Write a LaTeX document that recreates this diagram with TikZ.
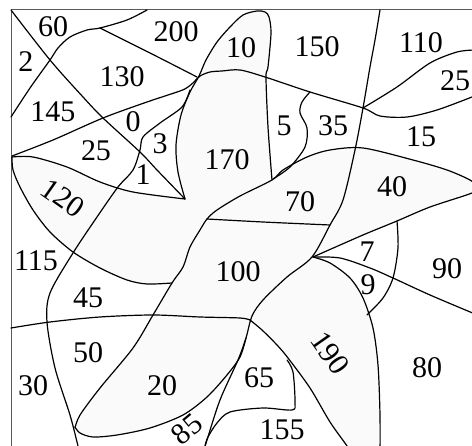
\documentclass[tikz,border=0pt]{standalone}
\usepackage{fontspec}
\setmainfont{Liberation Serif}
\begin{document}
\begin{tikzpicture}[x=1pt,y=-1pt]
\tikzstyle{num}=[font=\fontsize{30}{30}\selectfont,inner sep=0pt]
\tikzstyle{curve}=[draw,line width=1.2pt,line join=round,line cap=round]
\tikzstyle{star}=[fill=gray!4]
\tikzstyle{frame}=[draw=black!65,line width=1pt]
\useasboundingbox (0,0) rectangle (472,446);
\clip (0,0) rectangle (472,446);
% shaded pinwheel
\path[star] plot[smooth] coordinates {(12,157) (33,157) (67,167) (100,182) (133,192) (185,199)}
  -- plot[smooth] coordinates {(185,199) (178,172) (176,145) (181,115) (190,92) (199,76) (206,60) (217,42) (230,27) (243,15) (257,11) (265,12) (269,17) (271,33) (268,67) (266,77) (268,127) (272,180)}
  -- plot[smooth] coordinates {(272,180) (283,170) (307,157) (330,150) (363,148) (413,160) (447,170) (470,180) (478,187)}
  -- plot[smooth] coordinates {(478,187) (472,193) (430,207) (397,221) (363,235) (313,257)}
  -- plot[smooth] coordinates {(313,257) (330,263) (350,278) (363,298) (373,328) (378,365) (380,415) (380,460)}
  -- (355,460)
  -- plot[smooth] coordinates {(355,460) (347,446) (330,422) (310,388) (288,358) (277,345) (262,330) (250,320)}
  -- plot[smooth] coordinates {(250,320) (246,338) (240,357) (227,375) (207,397) (183,415) (150,428) (117,435) (93,437) (80,433) (75,427)}
  -- plot[smooth] coordinates {(75,427) (80,415) (100,388) (133,348) (153,315) (172,283)}
  -- plot[smooth] coordinates {(172,283) (147,284) (127,280) (100,268) (73,252) (50,232) (33,210) (20,187) (13,170) (12,157)}
  -- cycle;
% frame
\draw[frame] (11,446) -- (11,10) -- (472,10);
% curves
\path[curve] plot[smooth] coordinates {(11,10) (50,60) (83,97) (103,118) (140,152) (157,170) (185,199)};
\path[curve] plot[smooth] coordinates {(11,117) (30,88) (50,60) (58,48) (70,37) (87,30) (100,28) (127,20) (147,10)};
\path[curve] plot[smooth] coordinates {(100,28) (150,53) (197,77)};
\path[curve] plot[smooth] coordinates {(12,156) (53,140) (103,118) (147,102) (180,91) (188,87) (194,82) (200,76) (210,72) (222,71) (240,70) (265,77) (310,92) (363,108) (380,116) (407,117) (437,110) (472,97)};
\path[curve] plot[smooth] coordinates {(190,90) (182,107) (160,123) (143,137) (140,150) (133,170) (118,187) (97,217) (73,253) (50,293) (47,322) (55,368) (70,415) (78,446) (80,455)};
\path[curve] plot[smooth] coordinates {(185,199) (178,172) (176,145) (181,115) (190,92) (199,76) (206,60) (217,42) (230,27) (243,15) (257,11) (265,12) (269,17) (271,33) (268,67) (266,77) (268,127) (272,180)};
\path[curve] plot[smooth] coordinates {(75,428) (80,415) (100,388) (133,348) (153,315) (172,283) (183,267) (190,247) (200,230) (207,219) (217,210) (240,196) (272,180) (283,170) (307,157) (330,150) (363,148) (413,160) (447,170) (470,180) (478,187)};
\path[curve] plot[smooth] coordinates {(478,187) (472,193) (430,207) (397,221) (363,235) (313,257)};
\path[curve] plot[smooth] coordinates {(207,219) (263,222) (330,225)};
\path[curve] plot[smooth] coordinates {(380,10) (375,40) (370,67) (363,108) (355,150) (343,200) (330,225) (312,257) (287,277) (263,300) (252,316) (246,338) (238,360) (220,400) (207,440) (204,450)};
\path[curve] plot[smooth] coordinates {(11,328) (50,322) (100,317) (153,315) (200,317) (240,318) (250,320)};
\path[curve] plot[smooth] coordinates {(250,320) (262,330) (277,345) (288,358) (310,388) (330,422) (347,446) (355,460)};
\path[curve] plot[smooth] coordinates {(313,257) (330,263) (350,278) (363,298) (373,328) (378,365) (380,415) (380,460)};
\path[curve] plot[smooth] coordinates {(246,338) (240,357) (227,375) (207,397) (183,415) (150,428) (117,435) (93,437) (80,433) (75,427)};
\path[curve] plot[smooth] coordinates {(12,157) (33,157) (67,167) (100,182) (133,192) (185,199)};
\path[curve] plot[smooth] coordinates {(172,283) (147,284) (127,280) (100,268) (73,252) (50,232) (33,210) (20,187) (13,170) (12,157)};
\path[curve] plot[smooth] coordinates {(310,92) (302,102) (300,113) (307,128) (305,147) (290,167) (273,179)};
\path[curve] plot[smooth] coordinates {(287,360) (293,372) (295,402) (292,410) (263,408) (230,412) (217,423) (208,437) (205,446)};
\path[curve] plot[smooth] coordinates {(363,108) (397,87) (430,63) (457,52) (475,50)};
\path[curve] plot[smooth] coordinates {(397,221) (398,248) (393,278) (383,298) (367,315)};
\path[curve] plot[smooth] coordinates {(313,257) (340,258) (370,268) (393,278) (430,295) (475,314)};
% labels
\node[num] (l60) at (53,27) {60};
\node[num] (l200) at (176,32) {200};
\node[num] (l10) at (241,48) {10};
\node[num] (l150) at (317,47) {150};
\node[num] (l110) at (421,43) {110};
\node[num] (l25b) at (455,81) {25};
\node[num] (l2) at (26,62) {2};
\node[num] (l130) at (122,77) {130};
\node[num] (l145) at (53,112) {145};
\node[num] (l0) at (133,122) {0};
\node[num] (l25a) at (96,151) {25};
\node[num] (l3) at (160,144) {3};
\node[num] (l1) at (143,175) {1};
\node[num] (l170) at (227,160) {170};
\node[num] (l5) at (284,126) {5};
\node[num] (l35) at (333,126) {35};
\node[num] (l15) at (421,137) {15};
\node[num] (l40) at (392,187) {40};
\node[num] (l70) at (300,202) {70};
\node[num,rotate=-35] (l120) at (63,198) {120};
\node[num] (l115) at (36,261) {115};
\node[num] (l100) at (238,272) {100};
\node[num] (l7) at (367,252) {7};
\node[num] (l9) at (368,285) {9};
\node[num] (l90) at (447,269) {90};
\node[num] (l45) at (88,298) {45};
\node[num] (l50) at (88,353) {50};
\node[num,rotate=-55] (l190) at (330,353) {190};
\node[num] (l30) at (33,386) {30};
\node[num] (l20) at (162,386) {20};
\node[num] (l65) at (259,378) {65};
\node[num] (l80) at (427,368) {80};
\node[num,rotate=40] (l85) at (187,429) {85};
\node[num] (l155) at (282,430) {155};
\end{tikzpicture}
\end{document}
